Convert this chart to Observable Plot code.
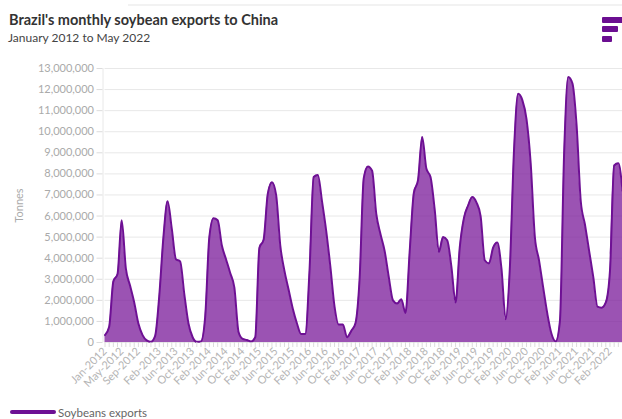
<!DOCTYPE html>
<html>
<head>
<meta charset="utf-8">
<script src="https://cdn.jsdelivr.net/npm/d3@7"></script>
<script src="https://cdn.jsdelivr.net/npm/@observablehq/plot@0.6"></script>
<style>
  html, body { margin: 0; padding: 0; background: #fff; }
  body { width: 622px; height: 419px; overflow: hidden; position: relative; font-family: Lato, "Open Sans", sans-serif; }
  #topline { position: absolute; left: 128px; top: 4px; width: 494px; height: 2px; background: #f2f2f2; }
  #title { position: absolute; left: 9px; top: 11px; font-size: 14.5px; font-weight: 700; color: #333; line-height: 18px; white-space: nowrap; }
  #subtitle { position: absolute; left: 8px; top: 30px; font-size: 12px; color: #444; line-height: 16px; white-space: nowrap; }
  .logo { position: absolute; left: 602px; background: #6b0e91; border-radius: 1px; }
  #chart { position: absolute; left: 0; top: 50px; }
  #legend { position: absolute; left: 10px; top: 404px; height: 16px; display: flex; align-items: center; }
  #legend .swatch { width: 46px; height: 4px; border-radius: 2px; background: #6e1094; }
  #legend .name { margin-left: 2px; font-size: 11.5px; color: #666; }
</style>
</head>
<body>
<div id="topline"></div>
<div id="title">Brazil's monthly soybean exports to China</div>
<div id="subtitle">January 2012 to May 2022</div>
<div class="logo" style="top:17px;width:24px;height:6px;"></div>
<div class="logo" style="top:26px;width:16px;height:6px;"></div>
<div class="logo" style="top:36px;width:10px;height:6px;"></div>
<div id="chart"></div>
<div id="legend"><div class="swatch"></div><div class="name">Soybeans exports</div></div>
<script>
// Monthly categories, January 2012 through May 2022
const months = d3.utcMonths(new Date(Date.UTC(2012, 0, 1)), new Date(Date.UTC(2022, 5, 1)))
  .map(d3.utcFormat("%b-%Y"));

// Soybean exports to China, tonnes per month
const exportsTonnes = [
  // 2012
  350000, 750000, 2900000, 3250000, 5800000, 3500000, 2700000, 1900000, 900000, 350000, 100000, 30000,
  // 2013
  300000, 2200000, 5000000, 6700000, 5400000, 3950000, 3850000, 2300000, 900000, 250000, 30000, 50000,
  // 2014
  1200000, 5000000, 5900000, 5800000, 4600000, 3950000, 3300000, 2600000, 500000, 170000, 120000, 50000,
  // 2015
  250000, 4500000, 4870000, 7050000, 7600000, 7000000, 4600000, 3400000, 2500000, 1600000, 900000, 400000,
  // 2016
  400000, 3400000, 7850000, 7950000, 6700000, 5300000, 3600000, 1700000, 850000, 850000, 250000, 550000,
  // 2017
  900000, 3000000, 7800000, 8350000, 8150000, 6100000, 5150000, 4350000, 3100000, 2000000, 1850000, 2050000,
  // 2018
  1400000, 4300000, 7100000, 7700000, 9750000, 8250000, 7850000, 6300000, 4300000, 5000000, 4850000, 3600000,
  // 2019
  1900000, 4500000, 5900000, 6500000, 6900000, 6650000, 6000000, 3900000, 3750000, 4500000, 4750000, 3500000,
  // 2020
  1100000, 3500000, 9100000, 11800000, 11500000, 10600000, 8500000, 5000000, 3900000, 2600000, 1350000, 400000,
  // 2021
  50000, 1000000, 8900000, 12600000, 12300000, 10300000, 6700000, 5600000, 4350000, 3100000, 1700000, 1650000,
  // 2022
  1900000, 3400000, 8400000, 8500000, 7200000
];

// Labelled months on the horizontal axis
const xTickLabels = [
  "Jan-2012", "May-2012", "Sep-2012", "Feb-2013", "Jun-2013", "Oct-2013", "Feb-2014", "Jun-2014",
  "Oct-2014", "Feb-2015", "Jun-2015", "Oct-2015", "Feb-2016", "Jun-2016", "Oct-2016", "Feb-2017",
  "Jun-2017", "Oct-2017", "Feb-2018", "Jun-2018", "Oct-2018", "Feb-2019", "Jun-2019", "Oct-2019",
  "Feb-2020", "Jun-2020", "Oct-2020", "Feb-2021", "Jun-2021", "Oct-2021", "Feb-2022"
];

// Vertical axis ticks, tonnes
const yTicks = [0, 1000000, 2000000, 3000000, 4000000, 5000000, 6000000, 7000000,
  8000000, 9000000, 10000000, 11000000, 12000000, 13000000];

const table = months.map((month, i) => ({month, tonnes: exportsTonnes[i]}));
const labelled = new Set(xTickLabels);

const purple = "#6e1094";

const chart = Plot.plot({
  width: 622,
  height: 355,
  marginLeft: 104.5,
  marginRight: 0,
  marginTop: 18,
  marginBottom: 63,
  style: {fontFamily: "Lato, 'Open Sans', sans-serif", fontSize: "11px", background: "transparent"},
  x: {type: "point", domain: months, padding: 0, round: false},
  y: {domain: [0, 13000000]},
  marks: [
    Plot.gridY(yTicks, {stroke: "#e8e8e8", strokeOpacity: 1, strokeWidth: 1}),
    Plot.ruleX([months[0]], {dx: -2, stroke: "#e8e8e8"}),
    Plot.areaY(table, {x: "month", y: "tonnes", fill: "#7a1a9a", fillOpacity: 0.75, curve: "monotone-x"}),
    Plot.lineY(table, {x: "month", y: "tonnes", stroke: purple, strokeWidth: 2, curve: "monotone-x"}),
    Plot.axisY(yTicks, {
      tickFormat: d3.format(","), tickSize: 6, tickPadding: 3, dx: -2,
      stroke: "#dcdcdc", fill: "#aaa",
      label: "Tonnes", labelAnchor: "center", labelArrow: "none", labelOffset: 90
    }),
    Plot.axisX(months, {
      tickSize: 5, tickPadding: 2, tickRotate: -45,
      tickFormat: d => labelled.has(d) ? d : "",
      stroke: "#dcdcdc", fill: "#b4b4b4", fontSize: 11, label: null
    })
  ]
});
document.getElementById("chart").appendChild(chart);
</script>
</body>
</html>
